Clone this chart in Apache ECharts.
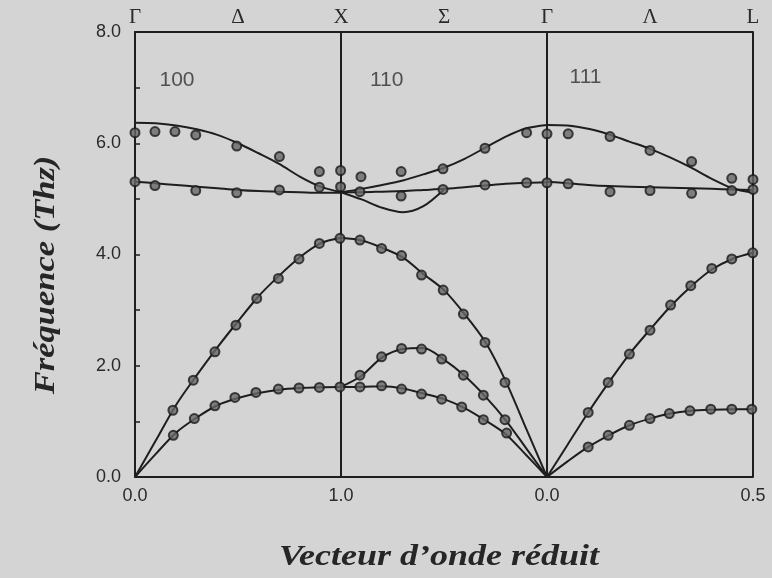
<!DOCTYPE html>
<html>
<head>
<meta charset="utf-8">
<title>Courbes de dispersion</title>
<script src="https://cdn.jsdelivr.net/npm/echarts@6/dist/echarts.min.js"></script>
<style>
  html, body { margin: 0; padding: 0; background: #d4d4d4; }
  #chart { width: 772px; height: 578px; }
</style>
</head>
<body>
<div id="chart"></div>
<script>
// x runs 0..3 along the path: Γ -> X [100], X -> Γ [110], Γ -> L [111]
var bottomTicks = ['0.0', '1.0', '0.0', '0.5'];
var topTicks = ['Γ', 'Δ', 'X', 'Σ', 'Γ', 'Λ', 'L'];
var dirLabels = [[0.204, 7.14, '100'], [1.222, 7.14, '110'], [2.187, 7.18, '111']];

// calculated branches, sampled every 0.1 along each segment (from its start)
var qSteps = [0, 0.1, 0.2, 0.3, 0.4, 0.5, 0.6, 0.7, 0.8, 0.9, 1];
var segStart = [0, 1, 2];

var crvGX_LA = [0, 0.65, 1.3, 1.83, 2.33, 2.8, 3.25, 3.62, 3.95, 4.2, 4.3];
var crvGX_TA = [0, 0.41, 0.8, 1.07, 1.29, 1.42, 1.51, 1.57, 1.6, 1.615, 1.62];
var crvGX_O1 = [6.37, 6.36, 6.32, 6.25, 6.15, 6.0, 5.82, 5.63, 5.4, 5.22, 5.12];
var crvGX_O2 = [5.31, 5.28, 5.25, 5.22, 5.19, 5.16, 5.14, 5.13, 5.12, 5.11, 5.11];

var crvXG_LA = [4.3, 4.25, 4.12, 3.95, 3.65, 3.36, 2.93, 2.43, 1.72, 0.86, 0];
var crvXG_T2 = [1.62, 1.82, 2.15, 2.3, 2.32, 2.11, 1.82, 1.45, 1.02, 0.51, 0];
var crvXG_T1 = [1.62, 1.62, 1.63, 1.59, 1.5, 1.4, 1.24, 1.02, 0.77, 0.39, 0];
var crvXG_O1 = [5.12, 5.18, 5.25, 5.33, 5.44, 5.56, 5.72, 5.92, 6.12, 6.27, 6.33];
var crvXG_O2 = [5.12, 5.12, 5.13, 5.14, 5.16, 5.18, 5.21, 5.24, 5.27, 5.29, 5.3];
var crvXG_O3 = [5.12, 4.99, 4.84, 4.76, 4.87, 5.17];

var crvGL_LA = [0, 0.58, 1.16, 1.7, 2.21, 2.65, 3.07, 3.43, 3.73, 3.92, 4.03];
var crvGL_TA = [0, 0.28, 0.54, 0.75, 0.93, 1.05, 1.14, 1.19, 1.21, 1.22, 1.22];
var crvGL_O1 = [6.33, 6.32, 6.26, 6.16, 6.03, 5.9, 5.74, 5.56, 5.36, 5.19, 5.11];
var crvGL_O2 = [5.31, 5.28, 5.25, 5.23, 5.22, 5.21, 5.2, 5.19, 5.18, 5.17, 5.16];

// measured points (circles), [x, THz]
var ptsGX_LA = [[0.184, 1.2], [0.283, 1.74], [0.388, 2.25], [0.49, 2.73], [0.591, 3.21], [0.696, 3.57], [0.796, 3.92], [0.895, 4.2], [0.995, 4.29]];
var ptsGX_TA = [[0.186, 0.75], [0.288, 1.05], [0.388, 1.28], [0.485, 1.43], [0.587, 1.52], [0.696, 1.58], [0.796, 1.6], [0.895, 1.61], [0.995, 1.62]];
var ptsGX_O1 = [[0, 6.19], [0.097, 6.21], [0.194, 6.21], [0.295, 6.15], [0.494, 5.95], [0.701, 5.76], [0.895, 5.49], [0.998, 5.51]];
var ptsGX_O2 = [[0, 5.31], [0.097, 5.24], [0.295, 5.15], [0.494, 5.11], [0.701, 5.16], [0.895, 5.21], [0.998, 5.22]];
var ptsXG_LA = [[1.092, 4.26], [1.197, 4.11], [1.294, 3.98], [1.391, 3.63], [1.496, 3.36], [1.594, 2.93], [1.699, 2.42], [1.796, 1.7]];
var ptsXG_T2 = [[1.092, 1.83], [1.197, 2.16], [1.294, 2.31], [1.391, 2.3], [1.489, 2.12], [1.594, 1.83], [1.691, 1.47], [1.796, 1.03]];
var ptsXG_T1 = [[1.092, 1.62], [1.197, 1.64], [1.294, 1.58], [1.391, 1.49], [1.489, 1.4], [1.586, 1.26], [1.691, 1.03], [1.804, 0.79]];
var ptsXG_O1 = [[1.097, 5.4], [1.292, 5.49], [1.495, 5.54], [1.699, 5.91], [1.901, 6.19]];
var ptsXG_O2 = [[1.092, 5.13], [1.292, 5.05], [1.495, 5.17], [1.699, 5.25], [1.901, 5.29]];
var ptsGL_LA = [[2.2, 1.16], [2.297, 1.7], [2.4, 2.21], [2.5, 2.64], [2.6, 3.09], [2.698, 3.44], [2.8, 3.75], [2.897, 3.92], [2.999, 4.03]];
var ptsGL_TA = [[2.2, 0.54], [2.297, 0.75], [2.4, 0.93], [2.5, 1.05], [2.594, 1.14], [2.694, 1.19], [2.795, 1.22], [2.897, 1.22], [2.994, 1.22]];
var ptsGL_O1 = [[2, 6.17], [2.103, 6.17], [2.306, 6.12], [2.5, 5.87], [2.702, 5.67], [2.897, 5.37], [3, 5.35]];
var ptsGL_O2 = [[2, 5.29], [2.103, 5.27], [2.306, 5.13], [2.5, 5.15], [2.702, 5.1], [2.897, 5.15], [3, 5.17]];

var curves = [
  [0, crvGX_LA], [0, crvGX_TA], [0, crvGX_O1], [0, crvGX_O2],
  [1, crvXG_LA], [1, crvXG_T2], [1, crvXG_T1], [1, crvXG_O1], [1, crvXG_O2], [1, crvXG_O3],
  [2, crvGL_LA], [2, crvGL_TA], [2, crvGL_O1], [2, crvGL_O2]
];
var points = [ptsGX_LA, ptsGX_TA, ptsGX_O1, ptsGX_O2,
  ptsXG_LA, ptsXG_T2, ptsXG_T1, ptsXG_O1, ptsXG_O2,
  ptsGL_LA, ptsGL_TA, ptsGL_O1, ptsGL_O2];

var ink = '#1e1e1e';
var serif = '"Liberation Serif", "DejaVu Serif", serif';
var sans = '"Liberation Sans", Arial, sans-serif';

var series = [];
curves.forEach(function (c) {
  var x0 = segStart[c[0]];
  series.push({
    type: 'line',
    data: c[1].map(function (v, i) { return [x0 + qSteps[i], v]; }),
    showSymbol: false,
    smooth: 0.3,
    lineStyle: { color: ink, width: 2 },
    silent: true,
    z: 2
  });
});
points.forEach(function (p) {
  series.push({
    type: 'scatter',
    data: p,
    symbol: 'circle',
    symbolSize: 9,
    itemStyle: { color: '#666', borderColor: '#1a1a1a', borderWidth: 2 },
    z: 3
  });
});
series.push({
  type: 'scatter',
  data: dirLabels,
  symbolSize: 0,
  silent: true,
  label: {
    show: true,
    position: 'inside',
    formatter: function (p) { return p.value[2]; },
    fontFamily: sans,
    fontSize: 21,
    color: '#2e2e2e'
  },
  z: 4
});

var chart = echarts.init(document.getElementById('chart'));
chart.setOption({
  backgroundColor: '#d4d4d4',
  animation: false,
  grid: { left: 135, right: 19, top: 32, bottom: 101 },
  xAxis: [
    {
      type: 'value',
      min: 0,
      max: 3,
      interval: 1,
      axisLine: { lineStyle: { color: ink, width: 2 } },
      axisTick: { show: false },
      axisLabel: {
        formatter: function (v) { return bottomTicks[Math.round(v)]; },
        fontFamily: sans,
        fontSize: 18,
        color: '#2a2a2a',
        margin: 10
      },
      splitLine: { show: true, lineStyle: { color: ink, width: 2 } }
    },
    {
      type: 'value',
      position: 'top',
      min: 0,
      max: 3,
      interval: 0.5,
      axisLine: { show: true, lineStyle: { color: ink, width: 2 } },
      axisTick: { show: false },
      axisLabel: {
        formatter: function (v) { return topTicks[Math.round(v * 2)]; },
        fontFamily: serif,
        fontSize: 21,
        color: '#2a2a2a',
        margin: 4
      },
      splitLine: { show: false }
    }
  ],
  yAxis: {
    type: 'value',
    min: 0,
    max: 8,
    interval: 1,
    axisLine: { show: true, lineStyle: { color: ink, width: 2 } },
    axisTick: { show: true, inside: true, length: 5, lineStyle: { color: ink, width: 1.5 } },
    axisLabel: {
      formatter: function (v) { return v % 2 === 0 ? v.toFixed(1) : ''; },
      fontFamily: sans,
      fontSize: 18,
      color: '#2a2a2a',
      margin: 14
    },
    splitLine: { show: false }
  },
  graphic: [
    {
      type: 'text',
      x: 46,
      y: 275,
      rotation: Math.PI / 2,
      scaleX: 1.15,
      style: {
        text: 'Fréquence (Thz)',
        font: 'italic bold 30px ' + serif,
        fill: '#262626',
        textAlign: 'center',
        textVerticalAlign: 'middle'
      }
    },
    {
      type: 'text',
      x: 439,
      y: 557,
      scaleX: 1.2,
      style: {
        text: 'Vecteur d\u2019onde réduit',
        font: 'italic bold 30px ' + serif,
        fill: '#262626',
        textAlign: 'center',
        textVerticalAlign: 'middle'
      }
    }
  ],
  series: series
});
</script>
</body>
</html>
